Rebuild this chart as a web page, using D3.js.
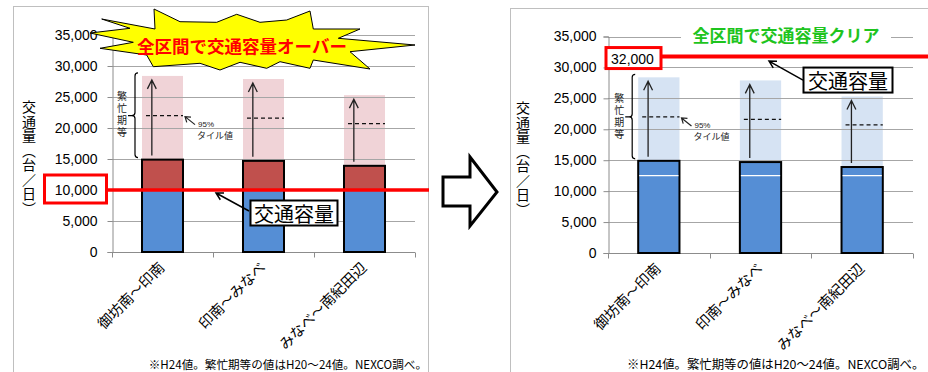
<!DOCTYPE html>
<html><head><meta charset="utf-8">
<script src="https://cdn.jsdelivr.net/npm/d3@7"></script>
<style>body{margin:0;background:#fff}svg{display:block}.vt{writing-mode:vertical-rl}</style>
</head><body>
<svg id="c" width="928" height="372"></svg>
<script>
// Sections of the expressway and their daily traffic (H24)
const categories = ["御坊南～印南", "印南～みなべ", "みなべ～南紀田辺"];
const dailyTraffic = [14900, 14700, 13900];
// Busy-period range (H20–24): maximum and 95th percentile
const busyMax = [28400, 27900, 25300];
const busyP95 = [22000, 21600, 20700];
// Road capacity before / after widening
const capacityBefore = 10000;
const capacityAfter = 32000;
const innerSplit = 12500;
const yTicks = [0, 5000, 10000, 15000, 20000, 25000, 30000, 35000];

const svg = d3.select("#c");
const JP = "'Noto Sans CJK JP', sans-serif";
const NUM = "'Liberation Sans', Arial, sans-serif";

function arrow(g, x0, y0, x1, y1, L, spread, w, color) {
  const a = Math.atan2(y1 - y0, x1 - x0);
  const p = d3.path();
  p.moveTo(x0, y0); p.lineTo(x1, y1);
  p.moveTo(x1 - L * Math.cos(a - spread), y1 - L * Math.sin(a - spread));
  p.lineTo(x1, y1);
  p.lineTo(x1 - L * Math.cos(a + spread), y1 - L * Math.sin(a + spread));
  g.append("path").attr("d", p.toString()).attr("fill", "none")
    .attr("stroke", color).attr("stroke-width", w).attr("stroke-linejoin", "miter");
}

function panel(cfg) {
  const g = svg.append("g");
  g.append("rect").attr("x", cfg.frame[0]).attr("y", cfg.frame[1])
    .attr("width", cfg.frame[2]).attr("height", cfg.frame[3])
    .attr("fill", "#fff").attr("stroke", "#bfbfbf");

  const y = d3.scaleLinear().domain([0, 35000]).range(cfg.yRange);
  const x = d3.scaleBand().domain(categories).range(cfg.xRange)
    .paddingInner(0.594).paddingOuter(0.297);
  const bw = x.bandwidth();
  const yc = v => Math.round(y(v)) + 0.5;

  // busy-period shading
  g.selectAll(".busy").data(categories).join("rect")
    .attr("x", d => x(d)).attr("width", bw)
    .attr("y", (d, i) => y(busyMax[i]))
    .attr("height", (d, i) => y(dailyTraffic[i]) - y(busyMax[i]))
    .attr("fill", cfg.shade);

  // gridlines
  g.selectAll(".grid").data(yTicks.slice(1)).join("line")
    .attr("x1", cfg.xRange[0]).attr("x2", cfg.xRange[1])
    .attr("y1", yc).attr("y2", yc)
    .attr("stroke", "#a6a6a6").attr("stroke-width", 1);

  // y axis
  const ya = g.append("g").attr("transform", `translate(${Math.round(cfg.xRange[0]) + 0.5},0)`)
    .call(d3.axisLeft(y).tickValues(yTicks).tickSize(5).tickPadding(cfg.labelPad)
      .tickFormat(d3.format(",")));
  ya.select(".domain").attr("stroke", "#8c8c8c");
  ya.selectAll(".tick line").attr("stroke", "#8c8c8c");
  ya.selectAll(".tick text").attr("font-family", NUM).attr("font-size", 14).attr("fill", "#000");

  // x axis with ticks at section boundaries
  const y0 = yc(0);
  g.append("line").attr("x1", cfg.xRange[0]).attr("x2", cfg.xRange[1])
    .attr("y1", y0).attr("y2", y0).attr("stroke", "#8c8c8c");
  const bounds = [0, 1, 2, 3].map(i => cfg.xRange[0] + i * x.step());
  g.selectAll(".xt").data(bounds).join("line")
    .attr("x1", d => Math.round(d) + 0.5).attr("x2", d => Math.round(d) + 0.5)
    .attr("y1", y0).attr("y2", y0 + 5).attr("stroke", "#8c8c8c");

  // bars
  if (cfg.stacked) {
    g.selectAll(".lower").data(categories).join("rect")
      .attr("x", d => x(d)).attr("width", bw)
      .attr("y", y(capacityBefore)).attr("height", y(0) - y(capacityBefore))
      .attr("fill", "#558ed5").attr("stroke", "#000").attr("stroke-width", 2);
    g.selectAll(".upper").data(categories).join("rect")
      .attr("x", d => x(d)).attr("width", bw)
      .attr("y", (d, i) => y(dailyTraffic[i]))
      .attr("height", (d, i) => y(capacityBefore) - y(dailyTraffic[i]))
      .attr("fill", "#c0504d").attr("stroke", "#000").attr("stroke-width", 2);
  } else {
    g.selectAll(".bar").data(categories).join("rect")
      .attr("x", d => x(d)).attr("width", bw)
      .attr("y", (d, i) => y(dailyTraffic[i]))
      .attr("height", (d, i) => y(0) - y(dailyTraffic[i]))
      .attr("fill", "#558ed5").attr("stroke", "#000").attr("stroke-width", 2);
    g.selectAll(".split").data(categories).join("line")
      .attr("x1", d => x(d) + 1).attr("x2", d => x(d) + bw - 1)
      .attr("y1", y(innerSplit)).attr("y2", y(innerSplit))
      .attr("stroke", "#fff").attr("stroke-width", 1.2);
  }

  // range arrows and 95th percentile dashes
  categories.forEach((c, i) => {
    const ax = x(c) + bw * 0.24;
    arrow(g, ax, y(dailyTraffic[i]) - 4, ax, y(busyMax[i]) + 4, 10, 0.46, 1.3, "#222");
    g.append("line").attr("x1", x(c) + 4).attr("x2", x(c) + bw)
      .attr("y1", y(busyP95[i])).attr("y2", y(busyP95[i]))
      .attr("stroke", "#111").attr("stroke-width", 1.3).attr("stroke-dasharray", "4,3");
  });

  // brace for the busy-period range of the first section
  const c0 = categories[0];
  const bx = x(c0) + cfg.braceDx;
  const bt = y(busyMax[0]) - 3, bb = y(dailyTraffic[0]) - 2, bm = y(busyP95[0]);
  const bp = d3.path();
  bp.moveTo(bx + 3, bt); bp.quadraticCurveTo(bx, bt, bx, bt + 3);
  bp.lineTo(bx, bm - 3); bp.quadraticCurveTo(bx, bm, bx - 3, bm);
  bp.lineTo(bx - 7, bm); bp.moveTo(bx - 3, bm);
  bp.quadraticCurveTo(bx, bm, bx, bm + 3);
  bp.lineTo(bx, bb - 3); bp.quadraticCurveTo(bx, bb, bx + 3, bb);
  g.append("path").attr("d", bp.toString()).attr("fill", "none")
    .attr("stroke", "#000").attr("stroke-width", 1.2);
  g.append("text").attr("class", "vt").attr("x", bx - 13).attr("y", bm - 24)
    .attr("font-family", JP).attr("font-size", 10).attr("letter-spacing", 2)
    .attr("fill", "#222").text("繁忙期等");

  // 95th percentile callout
  const rx = x(c0) + bw;
  arrow(g, rx + 12, y(busyP95[0]) + 9, rx + 2, y(busyP95[0]) + 1, 6, 0.6, 1.2, "#222");
  g.append("text").attr("x", rx + 15).attr("y", y(busyP95[0]) + 11)
    .attr("font-family", NUM).attr("font-size", 8).attr("fill", "#222").text("95%");
  g.append("text").attr("x", rx + 14).attr("y", y(busyP95[0]) + 23)
    .attr("font-family", JP).attr("font-size", 9).attr("fill", "#222").text("タイル値");

  // category labels
  categories.forEach(c => {
    g.append("text")
      .attr("transform", `translate(${x(c) + bw / 2 + cfg.labDx},${y0 + cfg.labDy}) rotate(-45)`)
      .attr("text-anchor", "end").attr("font-family", JP).attr("font-size", 14.5)
      .attr("fill", "#000").text(c);
  });

  // vertical axis title
  g.append("text").attr("class", "vt").attr("x", cfg.titleX).attr("y", cfg.titleTop)
    .attr("font-family", JP).attr("font-size", 14).attr("letter-spacing", 0.5)
    .attr("fill", "#000").text("交通量（台／日）");

  // footnote
  g.append("text").attr("x", cfg.noteX).attr("y", 369)
    .attr("text-anchor", cfg.noteAnchor).attr("font-family", JP)
    .attr("font-size", cfg.noteSize).attr("fill", "#000")
    .text("※H24値。繁忙期等の値はH20～24値。NEXCO調べ。");

  return { g, x, y, bw };
}

// ---- left: current capacity ----
const L = panel({
  frame: [13.5, 6.5, 415, 400], xRange: [112, 415], yRange: [252, 35],
  labelPad: 10, shade: "#f0d3d7", stacked: true, braceDx: -7,
  labDx: 3, labDy: 16, titleX: 29, titleTop: 100,
  noteX: 427, noteAnchor: "end", noteSize: 11.6
});
{
  const { g, y } = L;
  const cy = y(capacityBefore);
  g.append("line").attr("x1", 107).attr("x2", 429).attr("y1", cy).attr("y2", cy)
    .attr("stroke", "#ff0000").attr("stroke-width", 3.5);
  g.append("rect").attr("x", 44.5).attr("y", cy - 15).attr("width", 62).attr("height", 28)
    .attr("fill", "none").attr("stroke", "#ff0000").attr("stroke-width", 3);
  // capacity callout
  arrow(g, 249, cy + 21, 216, cy + 3, 8, 0.5, 1.5, "#000");
  g.append("rect").attr("x", 250.5).attr("y", cy + 10.5).attr("width", 87).attr("height", 25)
    .attr("fill", "#fff").attr("stroke", "#000").attr("stroke-width", 2);
  g.append("text").attr("x", 294).attr("y", cy + 23).attr("text-anchor", "middle")
    .attr("dominant-baseline", "central").attr("font-family", JP).attr("font-size", 20)
    .attr("fill", "#000").text("交通容量");

  // starburst headline
  const star = [[101.7,19],[155,29],[154,9],[180,21.7],[216.7,22.3],[236.7,14.3],[260,22.3],
    [286.7,20],[310,11],[313.3,29],[360,29],[338.3,38.3],[415,45],[350,51.7],[370,69],
    [313.3,60],[310,68.3],[280,61.7],[266.7,68.3],[240,62.3],[220,70],[200,63.3],
    [153.3,66.7],[146.7,55],[100,48.3],[133.3,42.3],[90,33],[130,28.3]];
  g.append("path").attr("d", d3.line()(star) + "Z")
    .attr("fill", "#ffff00").attr("stroke", "#000").attr("stroke-width", 1);
  g.append("text").attr("x", 242).attr("y", 45).attr("text-anchor", "middle")
    .attr("dominant-baseline", "central").attr("font-family", JP).attr("font-weight", 700)
    .attr("font-size", 17.5).attr("fill", "#ff0000").text("全区間で交通容量オーバー");
}

// ---- right: capacity after widening ----
const R = panel({
  frame: [510.5, 8.5, 430, 400], xRange: [608, 913], yRange: [253, 36.5],
  labelPad: 7, shade: "#d6e3f3", stacked: false, braceDx: -6,
  labDx: 3, labDy: 16, titleX: 523, titleTop: 101,
  noteX: 627, noteAnchor: "start", noteSize: 12.4
});
{
  const { g, y } = R;
  const cy = y(capacityAfter);
  // headline over the top gridline
  g.append("rect").attr("x", 681).attr("y", 24).attr("width", 210).attr("height", 20).attr("fill", "#fff");
  g.append("text").attr("x", 786).attr("y", 34).attr("text-anchor", "middle")
    .attr("dominant-baseline", "central").attr("font-family", JP).attr("font-weight", 700)
    .attr("font-size", 17).attr("fill", "#1ec41e").text("全区間で交通容量クリア");

  g.append("line").attr("x1", 660).attr("x2", 928).attr("y1", cy + 1.5).attr("y2", cy + 1.5)
    .attr("stroke", "#ff0000").attr("stroke-width", 4);
  g.append("rect").attr("x", 606).attr("y", cy - 7.5).attr("width", 55).attr("height", 21)
    .attr("fill", "#fff").attr("stroke", "#ff0000").attr("stroke-width", 3);
  g.append("text").attr("x", 632.5).attr("y", cy + 3.5).attr("text-anchor", "middle")
    .attr("dominant-baseline", "central").attr("font-family", NUM).attr("font-size", 14)
    .attr("fill", "#000").text(d3.format(",")(capacityAfter));

  arrow(g, 803, cy + 25, 769, cy + 6, 8, 0.5, 1.5, "#000");
  g.append("rect").attr("x", 803.5).attr("y", cy + 12.5).attr("width", 89).attr("height", 25)
    .attr("fill", "#fff").attr("stroke", "#000").attr("stroke-width", 2);
  g.append("text").attr("x", 848).attr("y", cy + 25).attr("text-anchor", "middle")
    .attr("dominant-baseline", "central").attr("font-family", JP).attr("font-size", 20)
    .attr("fill", "#000").text("交通容量");
}

// hollow arrow between the two panels
svg.append("path")
  .attr("d", d3.line()([[443,177],[470,177],[470,157],[497,192],[470,226],[470,206],[443,206]]) + "Z")
  .attr("fill", "#fff").attr("stroke", "#000").attr("stroke-width", 3).attr("stroke-linejoin", "miter");
</script>
</body></html>
